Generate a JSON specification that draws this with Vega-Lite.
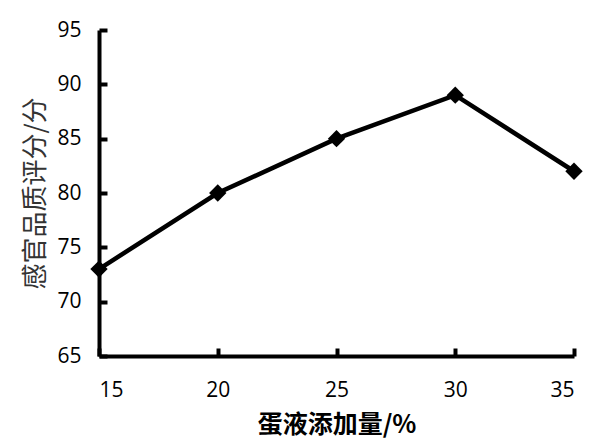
{
  "$schema": "https://vega.github.io/schema/vega-lite/v6.json",
  "width": 475,
  "height": 326,
  "autosize": {"type": "none"},
  "padding": {"left": 99, "top": 30, "right": 40, "bottom": 91},
  "background": "white",
  "config": {"view": {"stroke": null}},
  "data": {"values": [
    {"x": 15, "y": 73},
    {"x": 20, "y": 80},
    {"x": 25, "y": 85},
    {"x": 30, "y": 89},
    {"x": 35, "y": 82}
  ]},
  "encoding": {
    "x": {"field": "x", "type": "quantitative",
      "scale": {"domain": [15, 35], "nice": false, "zero": false},
      "axis": {"title": "蛋液添加量/%", "values": [15, 20, 25, 30, 35], "grid": false,
        "domainColor": "black", "domainWidth": 4, "tickColor": "black", "tickWidth": 4, "tickSize": -8,
        "labelFont": "Open Sans", "labelFontSize": 21, "labelColor": "black", "labelPadding": 31,
        "titleFont": "Noto Sans CJK SC", "titleFontSize": 25, "titleFontWeight": "bold", "titleColor": "black", "titlePadding": 12}},
    "y": {"field": "y", "type": "quantitative",
      "scale": {"domain": [65, 95], "nice": false, "zero": false},
      "axis": {"title": "感官品质评分/分", "values": [65, 70, 75, 80, 85, 90, 95], "grid": false,
        "domainColor": "black", "domainWidth": 4, "tickColor": "black", "tickWidth": 4, "tickSize": -8,
        "labelFont": "Open Sans", "labelFontSize": 21, "labelColor": "black", "labelPadding": 26,
        "titleFont": "Noto Sans CJK SC", "titleFontSize": 26, "titleFontWeight": "normal", "titleColor": "#333333", "titlePadding": 8}}
  },
  "layer": [
    {"mark": {"type": "line", "color": "black", "strokeWidth": 4.5}},
    {"mark": {"type": "point", "shape": "diamond", "filled": true, "color": "black", "size": 300, "opacity": 1}}
  ]
}
